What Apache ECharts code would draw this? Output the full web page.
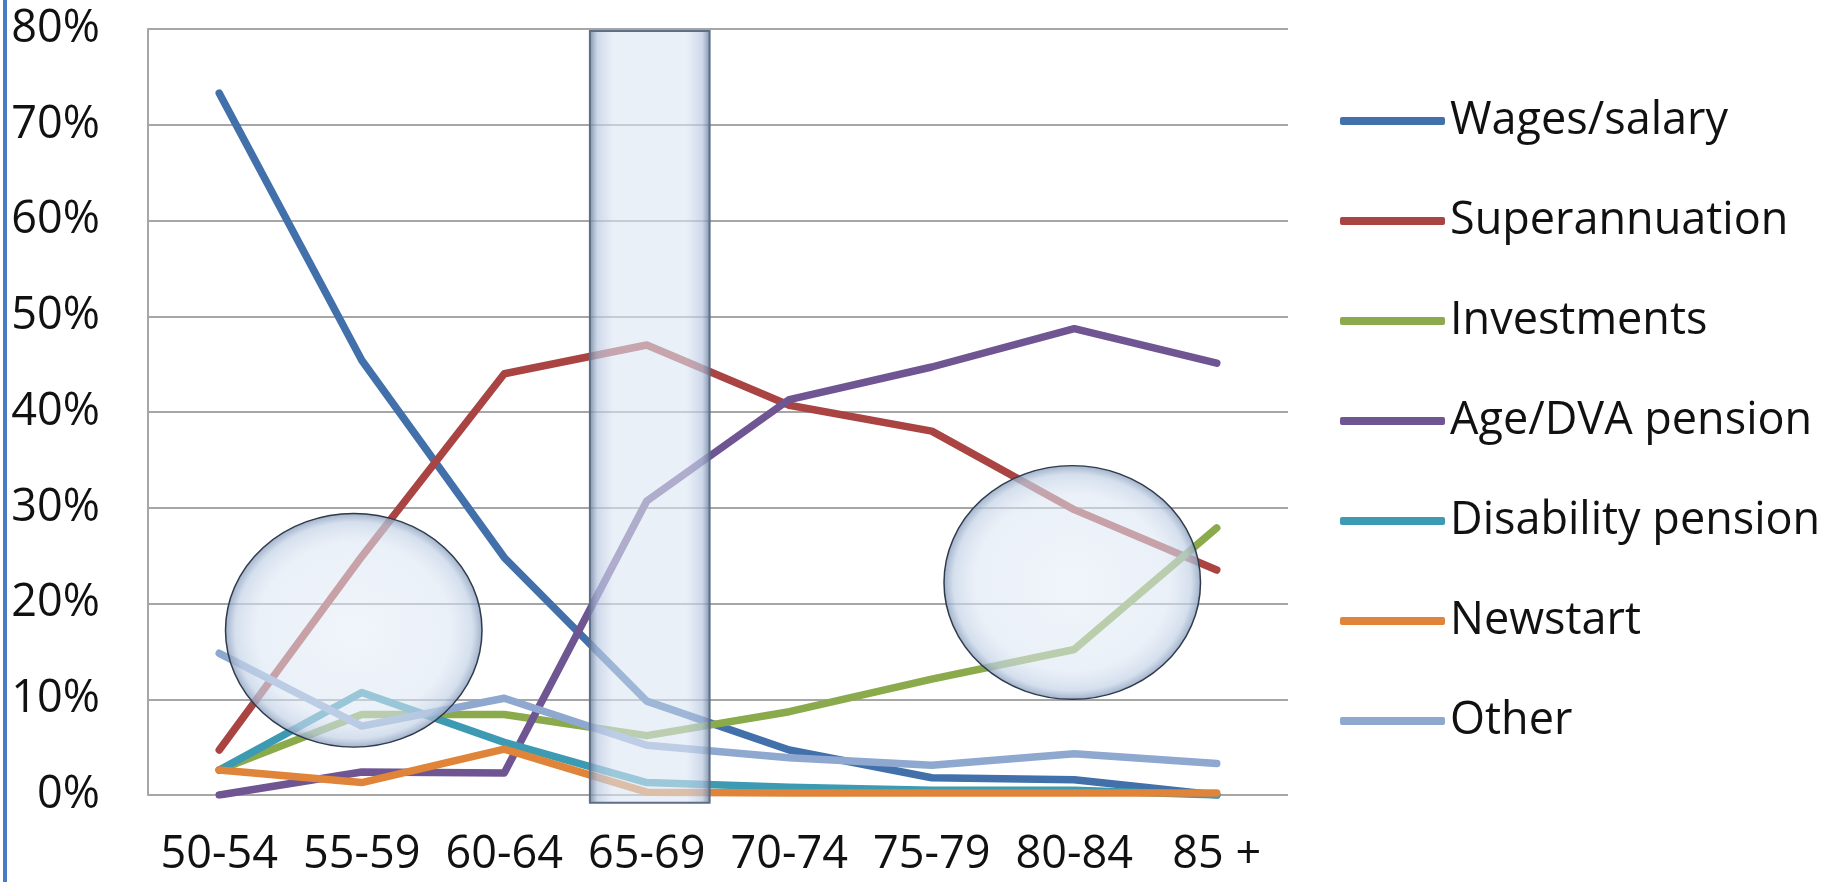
<!DOCTYPE html>
<html>
<head>
<meta charset="utf-8">
<script src="https://cdn.jsdelivr.net/npm/echarts@6/dist/echarts.min.js"></script>
<style>
html,body{margin:0;padding:0;background:#fff;}
#chart{width:1825px;height:882px;}
</style>
</head>
<body>
<div id="chart"></div>
<script>
const categories = ['50-54','55-59','60-64','65-69','70-74','75-79','80-84','85 +'];
const yTicks = [0,10,20,30,40,50,60,70,80];
const wages          = [73.3, 45.4, 24.8, 9.8, 4.7, 1.8, 1.6, 0];
const superannuation = [4.7, 24.9, 44.0, 47.0, 40.7, 38.0, 29.8, 23.5];
const investments    = [2.6, 8.4, 8.4, 6.2, 8.7, 12.1, 15.2, 27.9];
const agePension     = [0, 2.4, 2.3, 30.7, 41.3, 44.7, 48.7, 45.1];
const disability     = [2.6, 10.7, 5.5, 1.3, 0.8, 0.5, 0.5, 0];
const newstart       = [2.6, 1.3, 4.8, 0.3, 0.2, 0.2, 0.2, 0.2];
const other          = [14.8, 7.2, 10.1, 5.2, 3.9, 3.1, 4.3, 3.3];

const seriesNames = ['Wages/salary','Superannuation','Investments','Age/DVA pension','Disability pension','Newstart','Other'];
const seriesData = [wages, superannuation, investments, agePension, disability, newstart, other];
const colors = ['#4170AA','#A94442','#8AAA4C','#6F5592','#3C9BB3','#DF8438','#8EA8D0'];

const FONT = '"Open Sans", "Noto Sans", sans-serif';
const chart = echarts.init(document.getElementById('chart'), null, {renderer:'canvas'});

const option = {
  animation: false,
  backgroundColor: '#fff',
  color: colors,
  grid: {left: 148, right: 537, top: 29, bottom: 87, containLabel: false},
  xAxis: {
    type: 'category',
    data: categories,
    boundaryGap: true,
    axisTick: {show: false},
    axisLine: {show: false},
    axisLabel: {fontSize: 45, color: '#111', fontFamily: FONT, margin: 38, interval: 0}
  },
  yAxis: {
    type: 'value',
    min: yTicks[0], max: yTicks[yTicks.length-1], interval: 10,
    axisLine: {show: true, lineStyle: {color: '#a6a6a6', width: 2}},
    axisTick: {show: false},
    splitLine: {show: true, lineStyle: {color: '#a6a6a6', width: 2}},
    axisLabel: {formatter: '{value}%', fontSize: 45, color: '#111', fontFamily: FONT, margin: 48}
  },
  legend: {
    orient: 'vertical',
    left: 1335,
    top: 91,
    itemWidth: 105,
    itemHeight: 8,
    itemGap: 50,
    icon: 'roundRect',
    textStyle: {fontSize: 45, color: '#111', fontFamily: FONT, lineHeight: 50},
    data: seriesNames
  },
  series: seriesNames.map((n, i) => ({
    name: n,
    type: 'line',
    data: seriesData[i],
    showSymbol: false,
    symbol: 'none',
    lineStyle: {width: 7.5, color: colors[i], cap: 'round', join: 'round'},
    itemStyle: {color: colors[i]}
  }))
};
chart.setOption(option);

// decorative overlays positioned through the chart's own scales
const px = (c, v) => chart.convertToPixel({gridIndex: 0}, [c, v]);
const band = px(categories[1], 0)[0] - px(categories[0], 0)[0];
const unit = px(categories[0], 0)[1] - px(categories[0], 10)[1]; // pixels per 10%

const rTop = px('65-69', 79.8), rBot = px('65-69', -0.8);
const rW = band * 0.84;
const c1 = px('55-59', 17.2), c2 = px('80-84', 22.2);
const rx = band * 0.9, ry = unit * 1.22;

function bubble(c, dx) {
  return {
    type: 'circle', z: 100,
    x: c[0] + dx, y: c[1], scaleY: ry / rx,
    shape: {cx: 0, cy: 0, r: rx},
    style: {
      fill: {type: 'radial', x: 0.5, y: 0.5, r: 0.5, colorStops: [
        {offset: 0, color: 'rgba(228,236,247,0.55)'},
        {offset: 0.75, color: 'rgba(220,230,243,0.58)'},
        {offset: 0.92, color: 'rgba(195,210,230,0.7)'},
        {offset: 1, color: 'rgba(140,160,190,0.85)'}
      ]},
      stroke: '#2f3a4a', lineWidth: 1.5
    }
  };
}

chart.setOption({
  graphic: [
    {type: 'rect', z: 100, shape: {x: 3, y: 0, width: 4, height: 882}, style: {fill: '#4A7CC4'}},
    {
      type: 'rect', z: 100,
      shape: {x: rTop[0] + 3 - rW / 2, y: rTop[1], width: rW, height: rBot[1] - rTop[1]},
      style: {
        fill: {type: 'linear', x: 0, y: 0, x2: 1, y2: 0, colorStops: [
          {offset: 0, color: 'rgba(100,120,150,0.85)'},
          {offset: 0.07, color: 'rgba(185,200,225,0.7)'},
          {offset: 0.2, color: 'rgba(220,230,244,0.6)'},
          {offset: 0.8, color: 'rgba(220,230,244,0.6)'},
          {offset: 0.93, color: 'rgba(185,200,225,0.7)'},
          {offset: 1, color: 'rgba(100,120,150,0.85)'}
        ]},
        stroke: '#5d6e86', lineWidth: 2
      }
    },
    bubble(c1, -8),
    bubble(c2, -2)
  ]
});
</script>
</body>
</html>
